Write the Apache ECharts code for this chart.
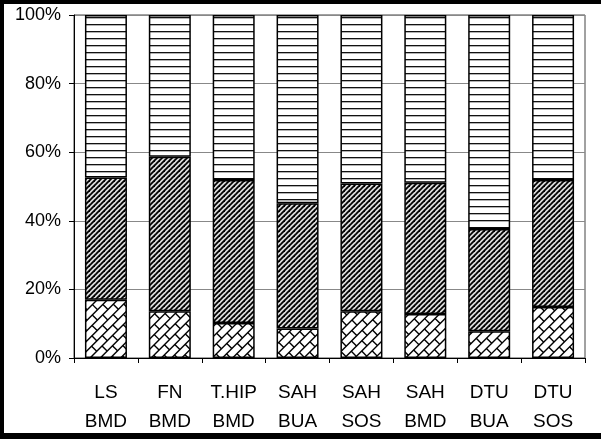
<!DOCTYPE html>
<html><head><meta charset="utf-8">
<script src="https://cdn.jsdelivr.net/npm/echarts/dist/echarts.min.js"></script>
<style>html,body{margin:0;padding:0;background:#fff}#c{width:601px;height:439px}</style>
</head><body><div id="c"></div>
<script>
const categories = ['LS\nBMD','FN\nBMD','T.HIP\nBMD','SAH\nBUA','SAH\nSOS','SAH\nBMD','DTU\nBUA','DTU\nSOS'];
const bottomValues = [17.0, 13.6, 10.2, 8.6, 13.6, 12.8, 7.8, 14.9];
const middleValues = [35.6, 45.1, 41.7, 36.5, 37.3, 38.3, 29.8, 37.0];
const topValues    = [47.4, 41.3, 48.1, 54.9, 49.1, 48.9, 62.4, 48.1];
const yTickValues = [0, 20, 40, 60, 80, 100];
const yTickLabels = ['0%', '20%', '40%', '60%', '80%', '100%'];

function hLinePattern() {
  const c = document.createElement('canvas'); c.width = 8; c.height = 7;
  const g = c.getContext('2d');
  g.fillStyle = '#fff'; g.fillRect(0, 0, 8, 7);
  g.fillStyle = '#111'; g.fillRect(0, 3, 8, 1);
  g.fillStyle = 'rgba(0,0,0,0.3)'; g.fillRect(0, 4, 8, 1);
  return c;
}
function diagPattern() {
  const s = 5;
  const c = document.createElement('canvas'); c.width = s; c.height = s;
  const g = c.getContext('2d');
  g.fillStyle = '#dcdcdc'; g.fillRect(0, 0, s, s);
  g.strokeStyle = '#000'; g.lineWidth = 1.8;
  [0, s, 2 * s].forEach(k => { g.beginPath(); g.moveTo(-2, k + 2); g.lineTo(k + 2, -2); g.stroke(); });
  return c;
}
function brickPattern() {
  const c = document.createElement('canvas'); c.width = 620; c.height = 460;
  const g = c.getContext('2d');
  g.fillStyle = '#fff'; g.fillRect(0, 0, 620, 460);
  g.strokeStyle = '#000'; g.lineWidth = 1.4;
  g.rotate(-Math.PI / 4);
  const h = 7.2, L = 15, R = 900;
  let r = 0;
  for (let v = -R; v < R; v += h, r++) {
    g.beginPath(); g.moveTo(-R, v); g.lineTo(R, v); g.stroke();
    for (let u = -R + (r % 2) * L / 2; u < R; u += L) {
      g.beginPath(); g.moveTo(u, v); g.lineTo(u, v + h); g.stroke();
    }
  }
  return c;
}

const chart = echarts.init(document.getElementById('c'), null, {renderer: 'canvas'});
const font = "'Liberation Sans', Arial, sans-serif";
const seg = (data, pat) => ({
  type: 'bar', stack: 'all', data: data, barWidth: 42,
  itemStyle: {color: {image: pat, repeat: 'repeat'}, borderColor: '#000', borderWidth: 1.5}
});
chart.setOption({
  animation: false,
  grid: {left: 74, right: 16, top: 15, bottom: 81, show: true, borderColor: '#444', borderWidth: 1, outerBoundsMode: 'none'},
  xAxis: {
    type: 'category', data: categories,
    axisLine: {lineStyle: {color: '#000', width: 1}},
    axisTick: {show: true, length: 5, lineStyle: {color: '#000'}},
    axisLabel: {color: '#000', fontSize: 19, lineHeight: 29, margin: 20, fontFamily: font}
  },
  yAxis: {
    type: 'value', min: 0, max: 100, interval: 20,
    axisLine: {show: true, lineStyle: {color: '#000'}},
    axisTick: {show: true, length: 5, lineStyle: {color: '#000'}},
    axisLabel: {color: '#000', fontSize: 18, margin: 13, fontFamily: font,
      formatter: v => yTickLabels[yTickValues.indexOf(v)]},
    splitLine: {lineStyle: {color: '#888', width: 1}}
  },
  series: [
    seg(bottomValues, brickPattern()),
    seg(middleValues, diagPattern()),
    seg(topValues, hLinePattern())
  ],
  graphic: [
    {type: 'rect', shape: {x: 0, y: 0, width: 601, height: 4}, style: {fill: '#000'}},
    {type: 'rect', shape: {x: 0, y: 0, width: 4, height: 439}, style: {fill: '#000'}},
    {type: 'rect', shape: {x: 0, y: 433, width: 601, height: 6}, style: {fill: '#000'}}
  ]
});
</script></body></html>
